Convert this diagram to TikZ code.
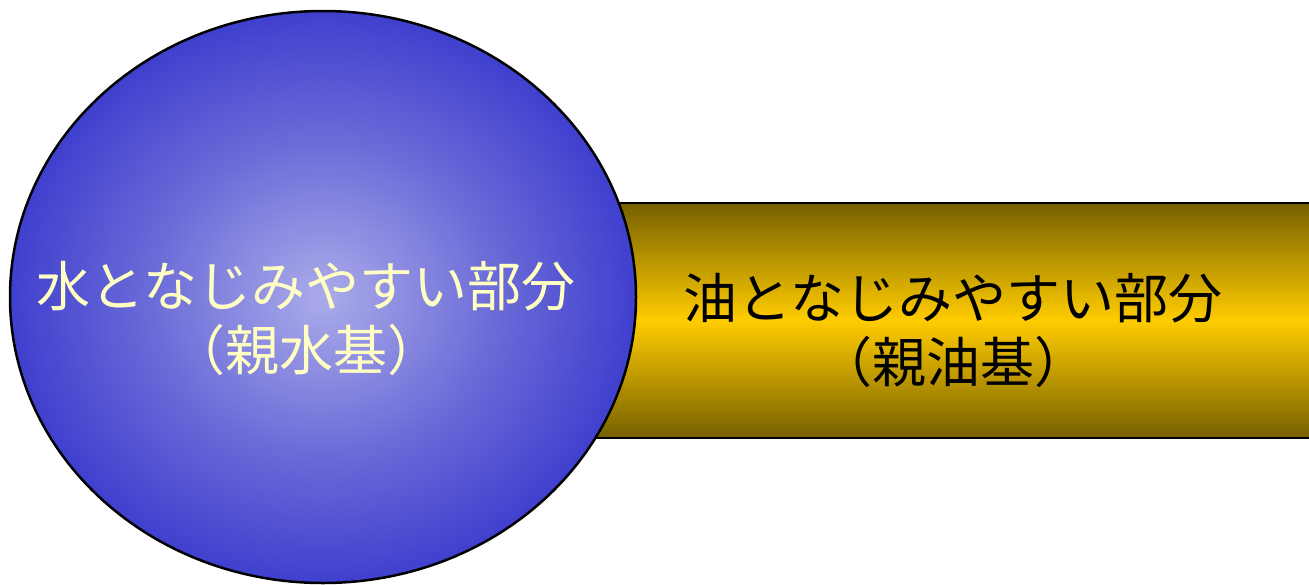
\documentclass[tikz,border=0pt]{standalone}
\usepackage{fontspec}
\newfontfamily\jp{Noto Sans CJK JP}
\usetikzlibrary{shapes.geometric}
\definecolor{cin}{HTML}{ABABEA}
\definecolor{cmid}{HTML}{6A6AD8}
\definecolor{cout}{HTML}{3434CC}
\definecolor{oilmid}{HTML}{FFCC00}
\definecolor{oildark}{HTML}{766000}
\definecolor{waterText}{HTML}{FFFFC4}
\pgfdeclareradialshading{blob}{\pgfpoint{0bp}{0bp}}{color(0bp)=(cin); color(14bp)=(cmid); color(28bp)=(cout); color(50bp)=(cout)}
\tikzset{
  oilbar/.style={draw=black, line width=2.5pt, rectangle, inner sep=0pt,
    top color=oildark, bottom color=oildark, middle color=oilmid},
  headball/.style={draw=black, line width=2.5pt, ellipse, inner sep=0pt, shading=blob},
  label/.style={font=\jp\fontsize{54}{64}\selectfont, align=center, inner sep=0pt}
}
\begin{document}
\begin{tikzpicture}[x=1pt,y=-1pt]
\useasboundingbox (0,0) rectangle (1309,584);
\node[oilbar, minimum width=760pt, minimum height=235pt] (oil) at (940,320.5) {};
\node[headball, minimum width=626pt, minimum height=572pt] (water) at (323,297) {};
\node[label, text=waterText] (wtext) at (306,318.5) {水となじみやすい部分\\（親水基）};
\node[label, text=black] (otext) at (953,330) {油となじみやすい部分\\（親油基）};
\end{tikzpicture}
\end{document}
